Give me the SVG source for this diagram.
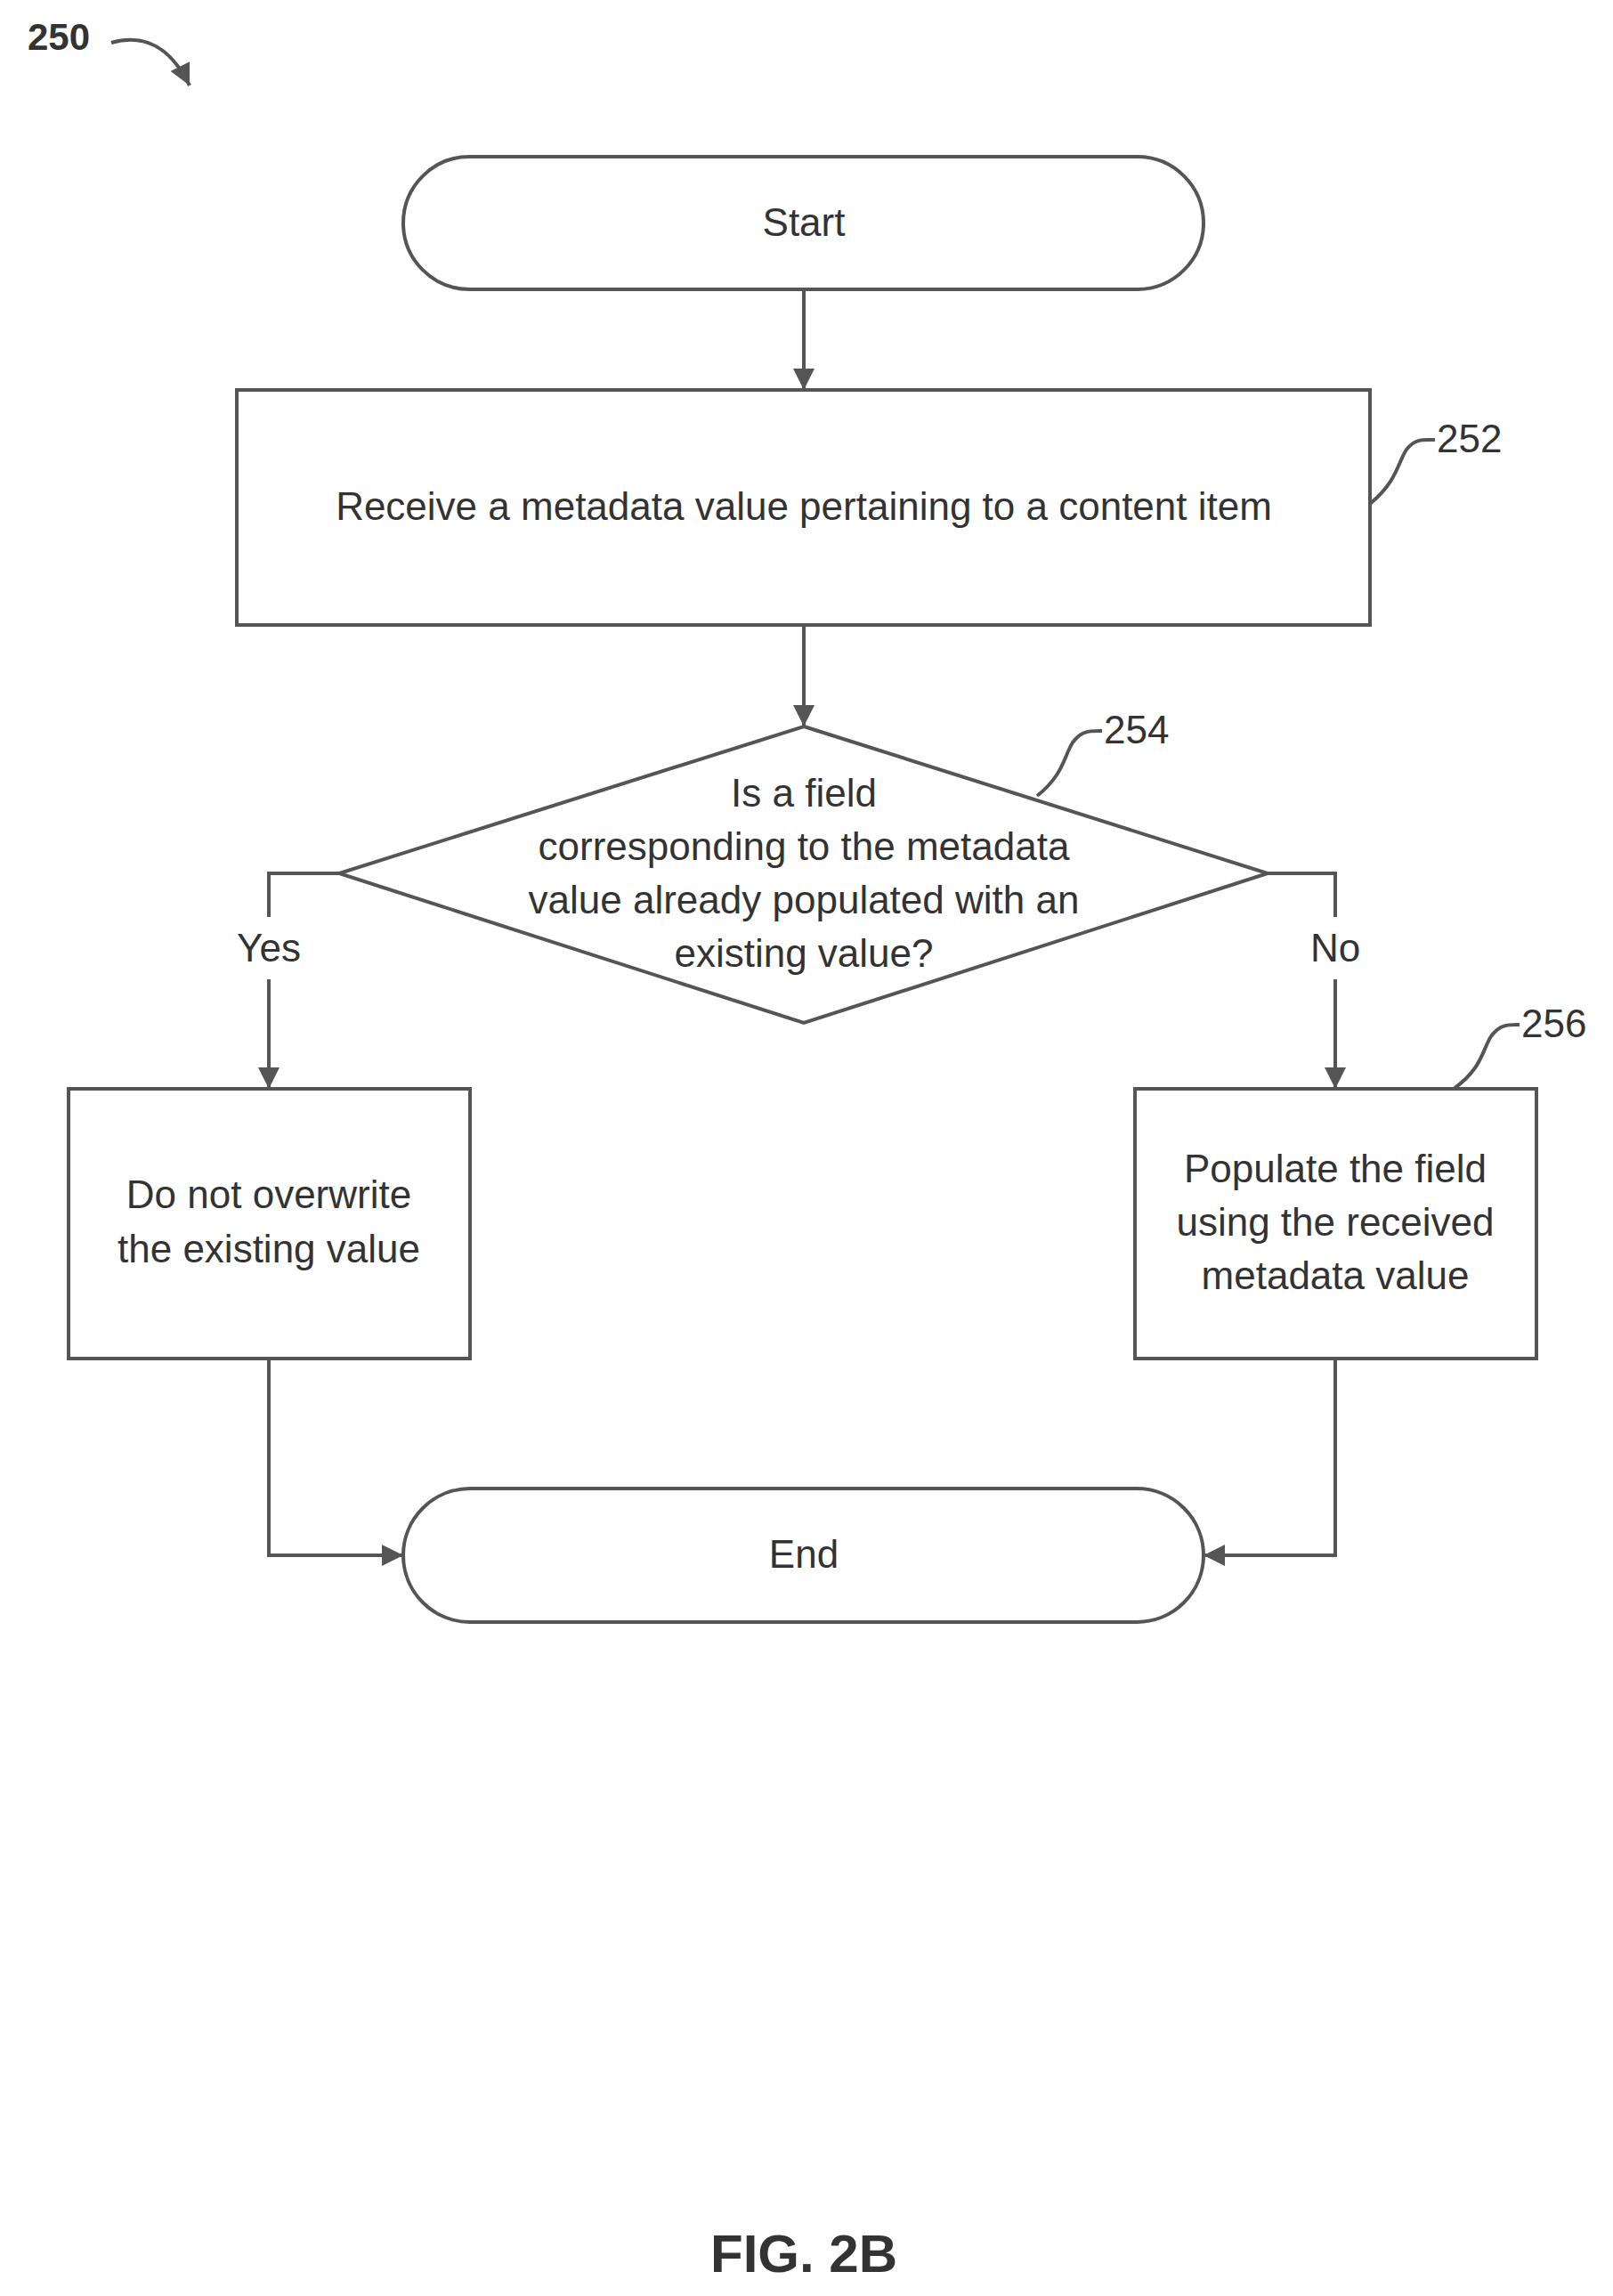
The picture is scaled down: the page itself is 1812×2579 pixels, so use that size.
<svg xmlns="http://www.w3.org/2000/svg" width="1812" height="2579" viewBox="0 0 1812 2579">
<style>
.s{fill:none;stroke:#555;stroke-width:4}
.t{font-family:"Liberation Sans",Arial,sans-serif;font-size:44px;fill:#333;text-anchor:middle}
.l{font-family:"Liberation Sans",Arial,sans-serif;font-size:44px;fill:#333}
</style>
<defs>
<marker id="a" viewBox="0 0 10 10" refX="10" refY="5" markerWidth="7" markerHeight="7" orient="auto" markerUnits="userSpaceOnUse"><path d="M0,0L10,5L0,10z" fill="#555"/></marker>
<marker id="b" viewBox="0 0 10 10" refX="10" refY="5" markerWidth="24" markerHeight="24" orient="auto" markerUnits="userSpaceOnUse"><path d="M0,0L10,5L0,10z" fill="#555"/></marker>
</defs>
<rect width="1812" height="2579" fill="#fff"/>
<g id="fig">
<text x="66" y="56" class="l" style="font-weight:bold;font-size:42px" text-anchor="middle">250</text>
<path class="s" d="M125,48 C160,38 190,50 213,96" marker-end="url(#b)"/>
</g>
<g id="start"><rect class="s" x="453" y="176" width="899" height="149" rx="74.5"/><text class="t" x="903" y="265">Start</text></g>
<g id="n252"><rect class="s" x="266" y="438" width="1273" height="264"/><text class="t" x="903" y="584">Receive a metadata value pertaining to a content item</text>
<path class="s" d="M1539,566 C1570,540 1570,520 1580,505 C1590,492 1600,494 1612,494"/><text class="l" x="1614" y="508">252</text></g>
<g id="n254"><polygon class="s" points="903,816 1424,981 903,1149 381,981"/>
<text class="t" x="903" y="906">Is a field</text><text class="t" x="903" y="966">corresponding to the metadata</text><text class="t" x="903" y="1026">value already populated with an</text><text class="t" x="903" y="1086">existing value?</text>
<path class="s" d="M1165,894 C1195,870 1195,850 1205,834 C1215,820 1225,821 1238,821"/><text class="l" x="1240" y="835">254</text></g>
<g id="no_over"><rect class="s" x="77" y="1223" width="451" height="303"/><text class="t" x="302" y="1357">Do not overwrite</text><text class="t" x="302" y="1418">the existing value</text></g>
<g id="n256"><rect class="s" x="1275" y="1223" width="451" height="303"/><text class="t" x="1500" y="1328">Populate the field</text><text class="t" x="1500" y="1388">using the received</text><text class="t" x="1500" y="1448">metadata value</text>
<path class="s" d="M1633,1223 C1665,1200 1665,1180 1675,1164 C1685,1150 1695,1151 1707,1151"/><text class="l" x="1709" y="1165">256</text></g>
<g id="end"><rect class="s" x="453" y="1672" width="899" height="150" rx="75"/><text class="t" x="903" y="1761">End</text></g>
<g id="connectors">
<path class="s" d="M903,325V438" marker-end="url(#b)"/>
<path class="s" d="M903,702V816" marker-end="url(#b)"/>
<path class="s" d="M381,981H302V1030"/><path class="s" d="M302,1100V1223" marker-end="url(#b)"/>
<text class="t" x="302" y="1080">Yes</text>
<path class="s" d="M1424,981H1500V1030"/><path class="s" d="M1500,1100V1223" marker-end="url(#b)"/>
<text class="t" x="1500" y="1080">No</text>
<path class="s" d="M302,1526V1747H453" marker-end="url(#b)"/>
<path class="s" d="M1500,1526V1747H1352" marker-end="url(#b)"/>
</g>
<text x="903" y="2552" class="t" style="font-weight:bold;font-size:60px">FIG. 2B</text>
</svg>
